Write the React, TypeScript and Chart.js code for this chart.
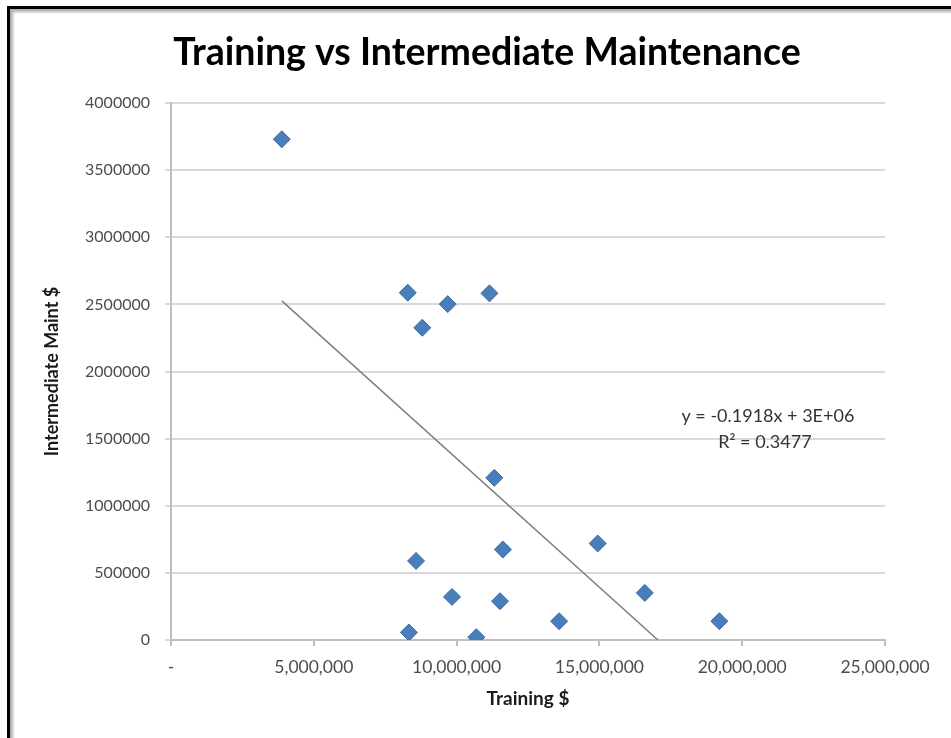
import React, { useEffect, useRef } from "react";
import { Chart, registerables } from "chart.js";

Chart.register(...registerables);

const chartTitle = "Training vs Intermediate Maintenance";
const xAxisTitle = "Training $";
const yAxisTitle = "Intermediate Maint $";

const trainingValues = [
  3880000, 8290000, 8800000, 9690000, 11150000, 11320000, 8580000, 11620000,
  14940000, 9840000, 11520000, 13590000, 16590000, 19200000, 8330000, 10690000,
];
const maintValues = [
  3730000, 2587000, 2326000, 2502000, 2582000, 1208000, 589000, 674000,
  719000, 321000, 289000, 140000, 351000, 140000, 56000, 21000,
];

const xTickLabels = ["-", "5,000,000", "10,000,000", "15,000,000", "20,000,000", "25,000,000"];
const yTickLabels = ["0", "500000", "1000000", "1500000", "2000000", "2500000", "3000000", "3500000", "4000000"];

const trendSlope = -0.1918;
const trendIntercept = 3270000;
const trendLabels = ["y = -0.1918x + 3E+06", "R² = 0.3477"];

const FONT = "Lato, 'Open Sans', sans-serif";

export default function App() {
  const ref = useRef<HTMLCanvasElement | null>(null);

  useEffect(() => {
    document.body.style.overflow = "hidden";
    const canvas = ref.current;
    if (!canvas) return;

    const points = trainingValues.map((x, i) => ({ x, y: maintValues[i] }));
    const minX = Math.min(...trainingValues);
    const trend = [
      { x: minX, y: trendSlope * minX + trendIntercept },
      { x: -trendIntercept / trendSlope, y: 0 },
    ];

    const textPlugin = {
      id: "texts",
      afterDatasetsDraw(chart: any) {
        const ctx = chart.ctx;
        const area = chart.chartArea;
        ctx.save();
        ctx.fillStyle = "#000000";
        ctx.font = `bold 37.5px ${FONT}`;
        ctx.textAlign = "center";
        ctx.textBaseline = "middle";
        ctx.fillText(chartTitle, 487, 53);

        ctx.fillStyle = "#333333";
        ctx.font = `18px ${FONT}`;
        const cx = area.left + (area.right - area.left) * 0.836;
        ctx.fillText(trendLabels[0], cx, 416);
        ctx.fillText(trendLabels[1], cx - 3, 442);
        ctx.restore();
      },
    };

    const chart = new Chart(canvas, {
      type: "scatter",
      data: {
        datasets: [
          {
            label: "Data",
            data: points,
            pointStyle: "rectRot",
            pointRadius: 8.5,
            pointHoverRadius: 8.5,
            backgroundColor: "#4a7ebb",
            borderColor: "#3b6ba5",
            borderWidth: 1,
            order: 1,
          },
          {
            label: "Trend",
            data: trend,
            showLine: true,
            pointRadius: 0,
            borderColor: "#7f7f7f",
            borderWidth: 1.5,
            order: 0,
          },
        ],
      },
      plugins: [textPlugin],
      options: {
        responsive: false,
        animation: false,
        layout: { padding: { left: 0, right: 66, top: 103, bottom: 0 } },
        plugins: {
          legend: { display: false },
          title: { display: false },
          tooltip: { enabled: false },
        },
        scales: {
          x: {
            type: "linear",
            min: 0,
            max: 25000000,
            afterFit: (scale: any) => {
              scale.height = 98;
            },
            ticks: {
              stepSize: 5000000,
              padding: 11,
              color: "#4d4d4d",
              font: { family: FONT, size: 17.5 },
              maxRotation: 0,
              autoSkip: false,
              callback: (_v: any, i: number) => xTickLabels[i],
            },
            grid: {
              drawOnChartArea: false,
              drawTicks: true,
              tickLength: 6,
              color: "#bfbfbf",
              lineWidth: 2,
            },
            border: { color: "#bfbfbf", width: 2 },
            title: {
              display: true,
              text: xAxisTitle,
              color: "#1a1a1a",
              font: { family: FONT, size: 19, weight: "bold" },
              padding: { top: 28, bottom: 28 },
            },
          },
          y: {
            type: "linear",
            min: 0,
            max: 4000000,
            afterFit: (scale: any) => {
              scale.width = 171;
            },
            ticks: {
              stepSize: 500000,
              padding: 15,
              color: "#4d4d4d",
              font: { family: FONT, size: 16 },
              autoSkip: false,
              callback: (_v: any, i: number) => yTickLabels[i],
            },
            grid: {
              color: "#d9d9d9",
              lineWidth: 2,
              drawTicks: true,
              tickLength: 6,
            },
            border: { color: "#bfbfbf", width: 2 },
            title: {
              display: true,
              text: yAxisTitle,
              color: "#1a1a1a",
              font: { family: FONT, size: 18, weight: "bold" },
              padding: { top: 41, bottom: 41 },
            },
          },
        },
      },
    });

    return () => chart.destroy();
  }, []);

  return (
    <div style={{ position: "fixed", left: 0, top: 0, width: 951, height: 738, background: "#ffffff", overflow: "hidden" }}>
      <canvas ref={ref} width={951} height={738} style={{ position: "absolute", left: 0, top: 0, display: "block" }} />
      <div
        style={{
          position: "absolute",
          left: 7,
          top: 6,
          width: 2000,
          height: 2000,
          borderLeft: "3px solid #000",
          borderTop: "3px solid #000",
          boxShadow: "inset 3px 3px 3px #b0b0b0",
          pointerEvents: "none",
        }}
      />
    </div>
  );
}
